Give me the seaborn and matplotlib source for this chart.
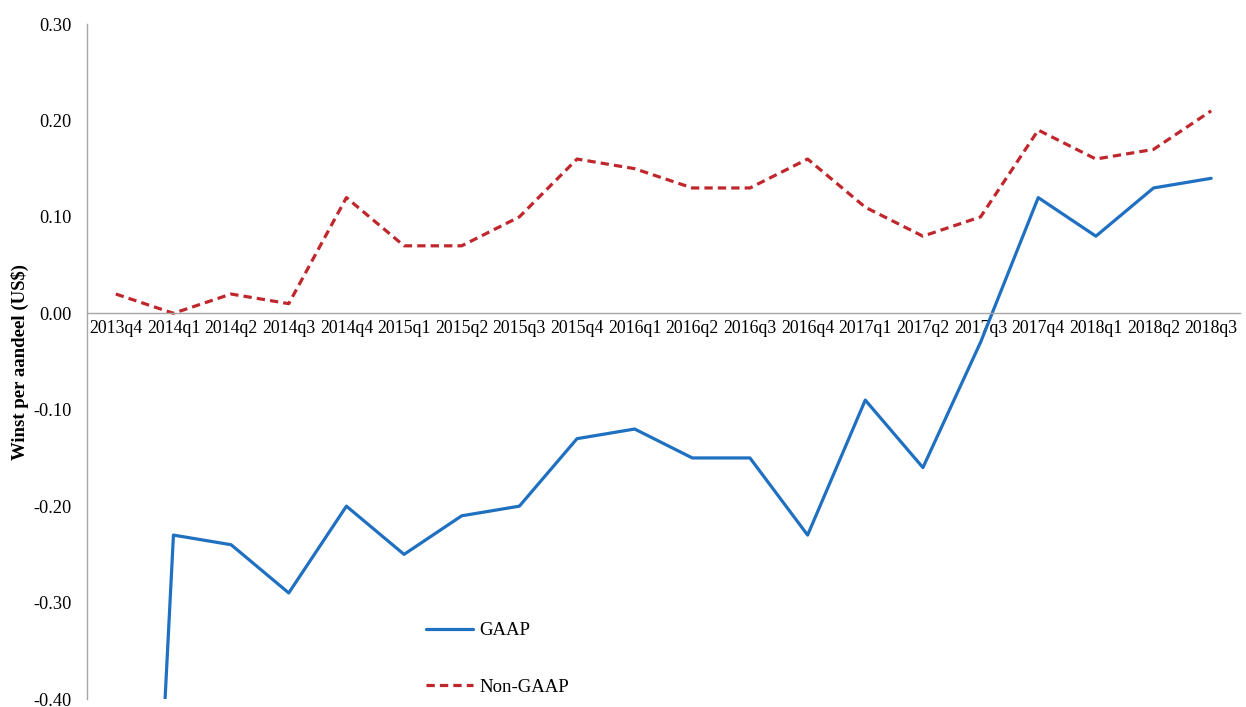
import numpy as np
import pandas as pd
import matplotlib
matplotlib.use("Agg")
import matplotlib.pyplot as plt
import seaborn as sns

quarters = ["2013q4", "2014q1", "2014q2", "2014q3", "2014q4", "2015q1", "2015q2",
            "2015q3", "2015q4", "2016q1", "2016q2", "2016q3", "2016q4", "2017q1",
            "2017q2", "2017q3", "2017q4", "2018q1", "2018q2", "2018q3"]
gaap = [-1.40, -0.23, -0.24, -0.29, -0.20, -0.25, -0.21, -0.20, -0.13, -0.12,
        -0.15, -0.15, -0.23, -0.09, -0.16, -0.03, 0.12, 0.08, 0.13, 0.14]
non_gaap = [0.02, 0.00, 0.02, 0.01, 0.12, 0.07, 0.07, 0.10, 0.16, 0.15,
            0.13, 0.13, 0.16, 0.11, 0.08, 0.10, 0.19, 0.16, 0.17, 0.21]
y_ticks = [-0.40, -0.30, -0.20, -0.10, 0.00, 0.10, 0.20, 0.30]

sns.set_style("white")
plt.rcParams['font.family'] = ['Liberation Serif', 'DejaVu Serif']
plt.rcParams['text.color'] = 'black'
plt.rcParams['axes.labelcolor'] = 'black'
plt.rcParams['xtick.labelcolor'] = 'black'
plt.rcParams['ytick.labelcolor'] = 'black'

pos = np.arange(len(quarters))
df = pd.DataFrame({"pos": pos, "GAAP": gaap, "Non-GAAP": non_gaap})

fig = plt.figure(figsize=(12.46, 7.07), dpi=100)
ax = fig.add_axes([0.0698, 0.0113, 0.9254, 0.9547])

sns.lineplot(data=df, x="pos", y="GAAP", ax=ax, color="#1f70c1", linewidth=2.3,
             label="GAAP")
sns.lineplot(data=df, x="pos", y="Non-GAAP", ax=ax, color="#c0272d", linewidth=2.3,
             linestyle=(0, (2.6, 1.6)), label="Non-GAAP")

ax.set_xlim(-0.5, len(quarters) - 0.5)
ax.set_ylim(-0.40, 0.30)
ax.set_yticks(y_ticks)
ax.set_yticklabels([f"{v:.2f}" for v in y_ticks])
ax.set_xticks(pos)
ax.set_xticklabels(quarters)
ax.set_xticks(np.arange(len(quarters) + 1) - 0.5, minor=True)
ax.tick_params(axis="x", which="major", length=0, pad=5, labelsize=12.8, labelcolor="black")
ax.tick_params(axis="x", which="minor", length=4, width=1, color="#a6a6a6", direction="out")
ax.tick_params(axis="y", length=4, width=1, color="#a6a6a6", direction="out", pad=7,
               labelsize=13.2, labelcolor="black")

for s in ["top", "right"]:
    ax.spines[s].set_visible(False)
ax.spines["bottom"].set_position(("data", 0))
ax.spines["bottom"].set_color("#a6a6a6")
ax.spines["left"].set_color("#a6a6a6")
ax.spines["bottom"].set_linewidth(1)
ax.spines["left"].set_linewidth(1)

ax.set_xlabel("")
ax.set_ylabel("Winst per aandeel (US$)", fontsize=13.5, fontweight="bold", color="black")
ax.yaxis.set_label_coords(-0.050, 0.5)

leg = ax.legend(loc="lower left", bbox_to_anchor=(0.279, -0.020), frameon=False,
                fontsize=13.5, handlelength=2.55, labelspacing=2.1, handletextpad=0.3)
for t in leg.get_texts():
    t.set_color("black")

fig.savefig("out.png", dpi=100)
